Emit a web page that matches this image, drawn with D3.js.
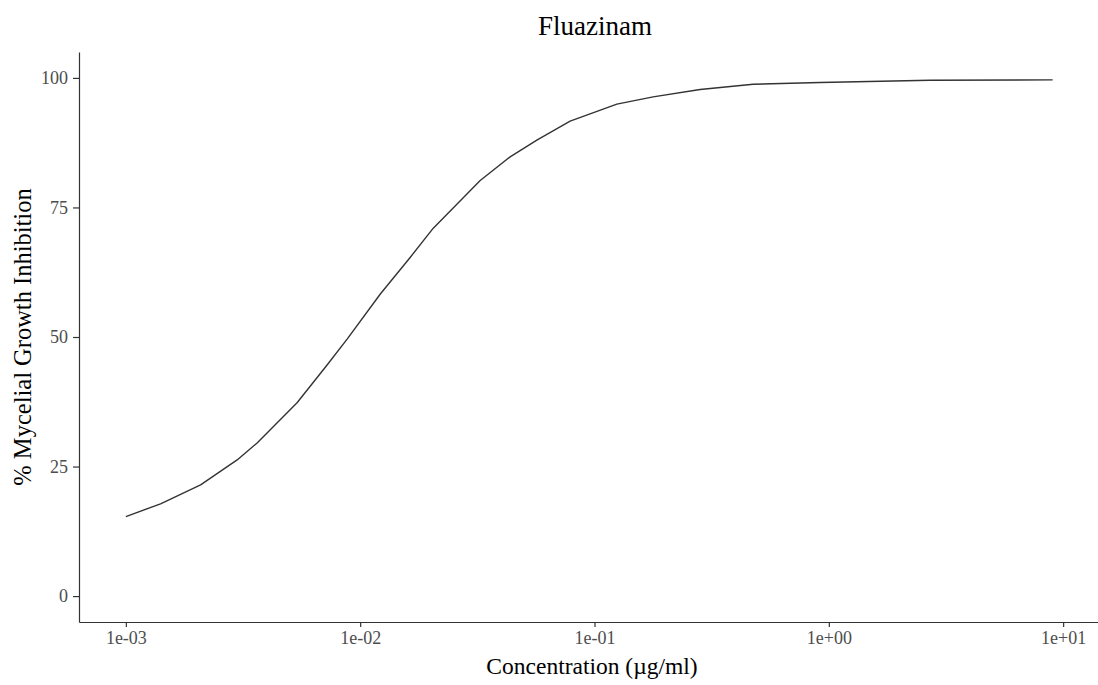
<!DOCTYPE html>
<html>
<head>
<meta charset="utf-8">
<script src="https://cdn.jsdelivr.net/npm/d3@7"></script>
<style>
  body { margin: 0; background: #fff; }
  svg { display: block; }
</style>
</head>
<body>
<div id="chart"></div>
<script>
/* Data */
var concentration = [0.001, 0.001406, 0.002084, 0.002985, 0.003632, 0.005378, 0.007224,
  0.008795, 0.01219, 0.01637, 0.02051, 0.03252, 0.04365, 0.05675, 0.0787, 0.1246,
  0.1779, 0.2823, 0.4753, 0.917, 2.702, 9.02];
var inhibition = [15.35, 17.8, 21.46, 26.28, 29.56, 37.3, 44.6,
  49.6, 58.3, 65.4, 71.0, 80.2, 84.77, 87.99, 91.65, 94.93,
  96.34, 97.76, 98.78, 99.11, 99.56, 99.62];
var xTicks = [1e-3, 1e-2, 1e-1, 1e0, 1e1];
var xTickLabels = ["1e-03", "1e-02", "1e-01", "1e+00", "1e+01"];
var yTicks = [0, 25, 50, 75, 100];

/* Settings */
var width = 1098,
    height = 685,
    plotLeft = 79,
    plotTop = 52,
    plotBottom = 622,
    serif = "'Liberation Serif', 'Times New Roman', serif",
    tickColor = "#4d4d4d";

var x = d3.scaleLog()
    .domain([1e-3 / Math.pow(10, 0.2), 10 * Math.pow(10, 0.2)])
    .range([plotLeft, 1110]);

var y = d3.scaleLinear()
    .domain([-5, 105])
    .range([plotBottom, plotTop]);

var svg = d3.select("#chart").append("svg")
    .attr("width", width)
    .attr("height", height)
    .attr("viewBox", "0 0 " + width + " " + height);

/* Curve */
var line = d3.line()
    .x(function(d, i) { return x(concentration[i]); })
    .y(function(d) { return y(d); });

svg.append("path")
  .datum(inhibition)
  .attr("fill", "none")
  .attr("stroke", "#333")
  .attr("stroke-width", 1.4)
  .attr("stroke-linejoin", "round")
  .attr("d", line);

/* Axes */
var xAxis = svg.append("g")
    .attr("transform", "translate(0," + plotBottom + ")")
    .call(d3.axisBottom(x)
      .tickValues(xTicks)
      .tickFormat(function(d, i) { return xTickLabels[i]; })
      .tickSize(5)
      .tickSizeOuter(0)
      .tickPadding(4));

var yAxis = svg.append("g")
    .attr("transform", "translate(" + plotLeft + ",0)")
    .call(d3.axisLeft(y)
      .tickValues(yTicks)
      .tickSize(6)
      .tickSizeOuter(0)
      .tickPadding(5));

[xAxis, yAxis].forEach(function(g) {
  g.select(".domain").attr("stroke", "#333").attr("stroke-width", 1.2);
  g.selectAll(".tick line").attr("stroke", "#333").attr("stroke-width", 1.2);
  g.selectAll(".tick text")
    .attr("fill", tickColor)
    .style("font-family", serif)
    .style("font-size", "18px");
});

/* Titles */
svg.append("text")
  .attr("x", 595)
  .attr("y", 35)
  .attr("text-anchor", "middle")
  .style("font-family", serif)
  .style("font-size", "27px")
  .text("Fluazinam");

svg.append("text")
  .attr("x", 592)
  .attr("y", 674)
  .attr("text-anchor", "middle")
  .style("font-family", serif)
  .style("font-size", "23.5px")
  .text("Concentration (\u00b5g/ml)");

svg.append("text")
  .attr("transform", "translate(31," + 337 + ") rotate(-90)")
  .attr("text-anchor", "middle")
  .style("font-family", serif)
  .style("font-size", "24.5px")
  .text("% Mycelial Growth Inhibition");
</script>
</body>
</html>
